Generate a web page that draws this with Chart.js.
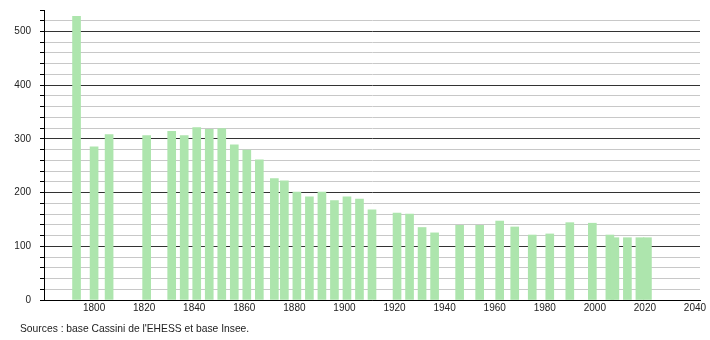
<!DOCTYPE html>
<html>
<head>
<meta charset="utf-8">
<script src="https://cdn.jsdelivr.net/npm/chart.js@4/dist/chart.umd.min.js"></script>
<style>
  html, body { margin: 0; padding: 0; background: #fff; }
  #wrap { position: relative; width: 710px; height: 340px; }
  #src { position: absolute; left: 20px; top: 323px; font: 10.3px "Liberation Sans", Arial, sans-serif; line-height: 12px; color: #222; white-space: nowrap; }
</style>
</head>
<body>
<div id="wrap">
  <canvas id="c" width="710" height="340"></canvas>
  <div id="src">Sources : base Cassini de l'EHESS et base Insee.</div>
</div>
<script>
const years = [1793,1800,1806,1821,1831,1836,1841,1846,1851,1856,1861,1866,1872,1876,1881,1886,1891,1896,1901,1906,1911,1921,1926,1931,1936,1946,1954,1962,1968,1975,1982,1990,1999,2006,2008,2013,2018,2021];
const population = [528,285,308,306,314,306,321,318,319,289,279,261,226,222,201,192,201,185,192,188,168,162,160,135,125,139,139,147,136,121,123,144,143,121,116,116,116,116];
const xTickLabels = [1800,1820,1840,1860,1880,1900,1920,1940,1960,1980,2000,2020,2040];
const yTickLabels = [0,100,200,300,400,500];

const points = years.map((y, i) => ({ x: y, y: population[i] }));

new Chart(document.getElementById('c'), {
  type: 'bar',
  data: {
    datasets: [{
      data: points,
      backgroundColor: '#ade5ad',
      borderWidth: 0,
      barThickness: 8
    }]
  },
  options: {
    responsive: false,
    animation: false,
    devicePixelRatio: 1,
    layout: { padding: { top: 10, right: 10, left: 0, bottom: 0 } },
    plugins: { legend: { display: false }, tooltip: { enabled: false } },
    scales: {
      x: {
        type: 'linear',
        offset: false,
        min: 1780,
        max: 2042,
        afterBuildTicks: s => { s.ticks = xTickLabels.map(v => ({ value: v })); },
        afterFit: s => { s.height = 40; s.paddingLeft = 0; s.paddingRight = 0; },
        grid: { display: false, offset: false, drawTicks: false },
        border: { display: true, color: '#000', width: 1 },
        ticks: {
          padding: 2,
          maxRotation: 0,
          autoSkip: false,
          color: '#222',
          font: { family: '"Liberation Sans", Arial, sans-serif', size: 10 },
          callback: v => String(v)
        }
      },
      y: {
        min: 0,
        max: 540,
        afterFit: s => { s.width = 44; s.paddingTop = 0; s.paddingBottom = 0; },
        ticks: {
          stepSize: 20,
          padding: 9,
          autoSkip: false,
          color: '#222',
          font: { family: '"Liberation Sans", Arial, sans-serif', size: 10 },
          callback: v => yTickLabels.includes(v) ? String(v) : ''
        },
        border: { display: true, color: '#000', width: 1 },
        grid: {
          tickLength: 4,
          tickColor: '#000',
          color: ctx => {
            const v = ctx.tick ? ctx.tick.value : 0;
            if (v === 540) return 'rgba(0,0,0,0)';
            return v % 100 === 0 ? '#333' : '#c8c8c8';
          },
          lineWidth: 1
        }
      }
    }
  }
});
</script>
</body>
</html>
